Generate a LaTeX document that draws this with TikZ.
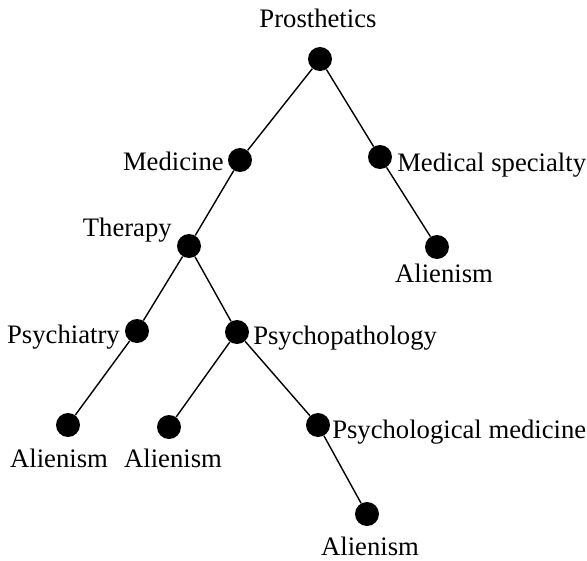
\documentclass[tikz,border=0pt]{standalone}
\usepackage{fontspec}
\setmainfont{Liberation Serif}
\begin{document}
\begin{tikzpicture}[x=0.75pt,y=-0.75pt,
  dot/.style={circle,fill=black,inner sep=0pt,minimum size=18pt},
  lab/.style={inner sep=0pt,font=\fontsize{20}{24}\selectfont},
  edge/.style={line width=1.05pt}]
\useasboundingbox (0,0) rectangle (587,561);
% dots
\node[dot] (P) at (320,59) {};
\node[dot] (Med) at (240,160) {};
\node[dot] (MS) at (380,157) {};
\node[dot] (Th) at (189,246) {};
\node[dot] (A1) at (437,247) {};
\node[dot] (Psy) at (137,331) {};
\node[dot] (Pp) at (237,332) {};
\node[dot] (A2) at (68,425) {};
\node[dot] (A3) at (169,427) {};
\node[dot] (PM) at (318,425) {};
\node[dot] (A4) at (367,514) {};
% labels
\node[lab,anchor=base] (lP) at (318,27) {Prosthetics};
\node[lab,anchor=base east] (lMed) at (224,170) {Medicine};
\node[lab,anchor=base west] (lMS) at (397,171) {Medical specialty};
\node[lab,anchor=base east] (lTh) at (172,236) {Therapy};
\node[lab,anchor=base] (lA1) at (444,282) {Alienism};
\node[lab,anchor=base east] (lPsy) at (120,343) {Psychiatry};
\node[lab,anchor=base west] (lPp) at (253,344) {Psychopathology};
\node[lab,anchor=base] (lA2) at (59,467) {Alienism};
\node[lab,anchor=base] (lA3) at (173,467) {Alienism};
\node[lab,anchor=base west] (lPM) at (332,438) {Psychological medicine};
\node[lab,anchor=base] (lA4) at (370,555) {Alienism};
% edges
\draw[edge] (P) -- (Med);
\draw[edge] (P) -- (MS);
\draw[edge] (Med) -- (Th);
\draw[edge] (MS) -- (A1);
\draw[edge] (Th) -- (Psy);
\draw[edge] (Th) -- (Pp);
\draw[edge] (Psy) -- (A2);
\draw[edge] (Pp) -- (A3);
\draw[edge] (Pp) -- (PM);
\draw[edge] (PM) -- (A4);
\end{tikzpicture}
\end{document}
